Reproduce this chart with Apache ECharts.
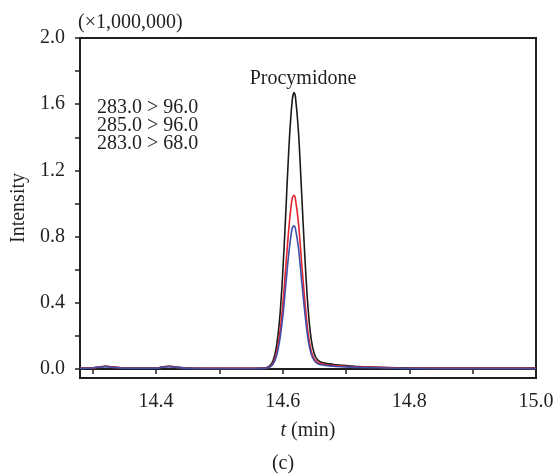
<!DOCTYPE html>
<html>
<head>
<meta charset="utf-8">
<script src="https://cdn.jsdelivr.net/npm/echarts@6/dist/echarts.min.js"></script>
<style>
  html, body { margin: 0; padding: 0; background: #fff; }
  #chart { width: 555px; height: 476px; }
</style>
</head>
<body>
<div id="chart"></div>
<script>
// retention time (min)
const times = [14.28, 14.30, 14.31, 14.32, 14.33, 14.35, 14.40, 14.41, 14.42, 14.43, 14.45, 14.50,
  14.55, 14.57, 14.575, 14.58, 14.585, 14.59, 14.595, 14.60, 14.605, 14.61, 14.615, 14.618,
  14.62, 14.625, 14.63, 14.635, 14.64, 14.645, 14.65, 14.655, 14.66, 14.67, 14.68, 14.70,
  14.72, 14.75, 14.80, 14.90, 15.00];

// intensity (x1,000,000)
const ion283to96 = [0.005, 0.006, 0.010, 0.015, 0.012, 0.005, 0.005, 0.012, 0.016, 0.012, 0.005, 0.004,
  0.004, 0.005, 0.008, 0.020, 0.050, 0.13, 0.29, 0.57, 0.95, 1.35, 1.62, 1.67,
  1.65, 1.43, 1.06, 0.68, 0.37, 0.18, 0.09, 0.055, 0.042, 0.032, 0.027, 0.020,
  0.014, 0.010, 0.006, 0.005, 0.005];
const ion285to96 = [0.004, 0.006, 0.012, 0.016, 0.012, 0.004, 0.004, 0.011, 0.015, 0.011, 0.004, 0.003,
  0.003, 0.004, 0.006, 0.014, 0.035, 0.09, 0.20, 0.38, 0.62, 0.86, 1.03, 1.05,
  1.03, 0.88, 0.64, 0.41, 0.22, 0.11, 0.06, 0.040, 0.032, 0.024, 0.020, 0.015,
  0.011, 0.010, 0.004, 0.003, 0.003];
const ion283to68 = [0.003, 0.005, 0.010, 0.014, 0.010, 0.004, 0.004, 0.010, 0.014, 0.010, 0.003, 0.002,
  0.002, 0.003, 0.005, 0.012, 0.030, 0.075, 0.165, 0.31, 0.51, 0.71, 0.85, 0.865,
  0.85, 0.73, 0.53, 0.34, 0.18, 0.09, 0.05, 0.032, 0.025, 0.020, 0.016, 0.012,
  0.009, 0.007, 0.003, 0.002, 0.002];

const xLabelValues = [14.4, 14.6, 14.8, 15.0];
const xTickValues = [14.3, 14.4, 14.5, 14.6, 14.7, 14.8, 14.9, 15.0];
const yLabelValues = [0, 0.4, 0.8, 1.2, 1.6, 2.0];
const yTickValues = [0, 0.2, 0.4, 0.6, 0.8, 1.0, 1.2, 1.4, 1.6, 1.8, 2.0];
const transitions = ["283.0 > 96.0", "285.0 > 96.0", "283.0 > 68.0"];

const FONT = "Liberation Serif";
const SIZE = 20;
const INK = "#231f20";

const pairs = (ys) => times.map((t, i) => [t, ys[i]]);

const makeLine = (name, ys, color) => ({
  name,
  type: "line",
  data: pairs(ys),
  smooth: 0.3,
  symbol: "none",
  lineStyle: { color, width: 1.6 },
  animation: false,
});

const label = (x, y, text, align) => ({
  type: "text", x, y,
  style: { text, font: `${SIZE}px "${FONT}"`, fill: INK, align: align || "left", verticalAlign: "middle" },
});

const chart = echarts.init(document.getElementById("chart"));

chart.setOption({
  animation: false,
  grid: {
    left: 80, right: 19, top: 38, bottom: 98,
    containLabel: false, outerBoundsMode: "none",
    show: true, borderColor: INK, borderWidth: 2,
  },
  xAxis: {
    type: "value",
    min: 14.28,
    max: 15.0,
    name: "{i|t} (min)",
    nameLocation: "middle",
    nameGap: 43,
    nameTextStyle: {
      fontFamily: FONT, fontSize: SIZE, color: INK,
      rich: { i: { fontFamily: FONT, fontSize: SIZE, fontStyle: "italic", color: INK } },
    },
    axisLine: { show: true, lineStyle: { color: INK, width: 2 } },
    axisTick: { show: true, inside: false, length: 5, customValues: xTickValues, lineStyle: { color: INK, width: 1.5 } },
    axisLabel: {
      customValues: xLabelValues,
      formatter: (v) => v.toFixed(1),
      fontFamily: FONT, fontSize: SIZE, color: INK, margin: 14,
    },
    splitLine: { show: false },
  },
  yAxis: {
    type: "value",
    min: -0.055,
    max: 2.0,
    name: "Intensity",
    nameLocation: "middle",
    nameGap: 50,
    nameTextStyle: { fontFamily: FONT, fontSize: SIZE, color: INK },
    axisLine: { show: true, lineStyle: { color: INK, width: 2 } },
    axisTick: { show: true, inside: false, length: 5, customValues: yTickValues, lineStyle: { color: INK, width: 1.5 } },
    axisLabel: {
      customValues: yLabelValues,
      formatter: (v) => v.toFixed(1),
      fontFamily: FONT, fontSize: SIZE, color: INK, margin: 15,
    },
    splitLine: { show: false },
  },
  graphic: [
    label(78, 23, "(×1,000,000)"),
    label(303, 79, "Procymidone", "center"),
    label(97, 108, transitions[0]),
    label(97, 126, transitions[1]),
    label(97, 144, transitions[2]),
    label(283, 464, "(c)", "center"),
  ],
  series: [
    makeLine(transitions[0], ion283to96, "#1a1a1a"),
    makeLine(transitions[1], ion285to96, "#e52330"),
    makeLine(transitions[2], ion283to68, "#3f4ea6"),
  ],
});
</script>
</body>
</html>
